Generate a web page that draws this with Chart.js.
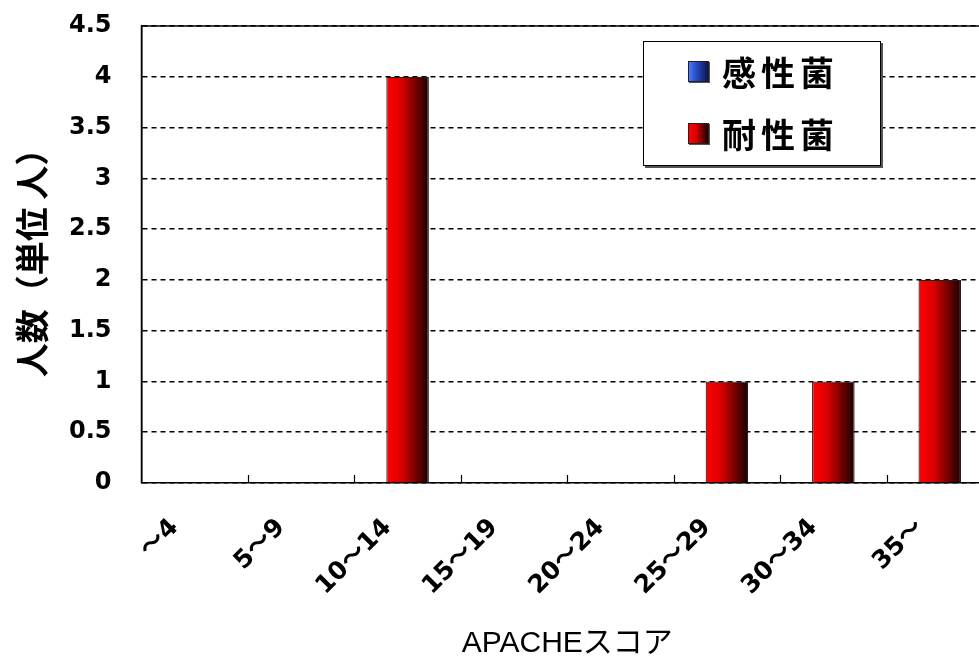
<!DOCTYPE html>
<html>
<head>
<meta charset="utf-8">
<script src="https://cdn.jsdelivr.net/npm/chart.js@4/dist/chart.umd.min.js"></script>
<style>
  html, body { margin: 0; padding: 0; background: #fff; overflow: hidden; width: 979px; height: 665px; }
  #wrap { position: relative; width: 1000px; height: 665px; }
  #legend {
    position: absolute; left: 643px; top: 41px; width: 236px; height: 123px;
    border: 1px solid #000; background: #fff; box-shadow: 2px 2px 0 #555;
    font-family: "Noto Sans CJK JP", sans-serif; font-weight: bold; font-size: 34px; color: #000;
  }
  .item { position: absolute; left: 44px; height: 40px; display: flex; align-items: center; }
  .sw { width: 19px; height: 19px; border: 1px solid #222; box-shadow: 1px 1px 0 #555; margin-right: 13px; flex: none; }
  .lbl { letter-spacing: 5px; white-space: nowrap; }
</style>
</head>
<body>
<div id="wrap">
  <canvas id="c" width="1000" height="665"></canvas>
  <div id="legend"></div>
</div>
<script>
const categories = ["～4", "5～9", "10～14", "15～19", "20～24", "25～29", "30～34", "35～"];
const susceptible = [0, 0, 0, 0, 0, 0, 0, 0];
const resistant = [0, 0, 4, 0, 0, 1, 1, 2];
const seriesNames = ["感性菌", "耐性菌"];
const yTickLabels = ["0", "0.5", "1", "1.5", "2", "2.5", "3", "3.5", "4", "4.5"];
const yTitle = "人数（単位 人）";
const xTitle = "APACHEスコア";

const BAR_PCT = 0.4;
const blueStops = ["#4a7bff", "#2a4fc8", "#0b1550"];
const redStops = ["#ff0000", "#dd0000", "#180000"];
const stopsByDataset = [blueStops, redStops];

function plainFill(stops) {
  // scriptable so every bar keeps its own options object
  return function (ctx) { return stops[0]; };
}

// legend (HTML)
const legend = document.getElementById('legend');
[[seriesNames[0], blueStops, 9], [seriesNames[1], redStops, 71]].forEach(([name, st, top]) => {
  const it = document.createElement('div');
  it.className = 'item';
  it.style.top = top + 'px';
  const sw = document.createElement('div');
  sw.className = 'sw';
  sw.style.background = `linear-gradient(to right, ${st[0]}, ${st[1]} 35%, ${st[2]})`;
  const lb = document.createElement('span');
  lb.className = 'lbl';
  lb.textContent = name;
  it.appendChild(sw); it.appendChild(lb);
  legend.appendChild(it);
});

const gradientPlugin = {
  id: 'barGradient',
  beforeDatasetsDraw(chart) {
    const ctx = chart.ctx;
    chart.data.datasets.forEach((ds, di) => {
      const meta = chart.getDatasetMeta(di);
      const st = stopsByDataset[di];
      meta.data.forEach(el => {
        const half = el.width / 2;
        if (!isFinite(el.x) || !isFinite(half)) return;
        const g = ctx.createLinearGradient(el.x - half, 0, el.x + half, 0);
        g.addColorStop(0, st[0]);
        g.addColorStop(0.35, st[1]);
        g.addColorStop(1, st[2]);
        el.options.backgroundColor = g;
      });
    });
  }
};

const framePlugin = {
  id: 'frame',
  afterDraw(chart) {
    const { ctx, chartArea } = chart;
    const xs = chart.scales.x;
    ctx.save();
    ctx.strokeStyle = '#000';
    ctx.lineWidth = 1.5;
    ctx.beginPath();
    ctx.moveTo(chartArea.left, chartArea.bottom);
    ctx.lineTo(chartArea.left, chartArea.top);
    ctx.lineTo(chartArea.right, chartArea.top);
    ctx.stroke();
    const n = chart.data.labels.length;
    const cw = xs.width / n;
    ctx.lineWidth = 1.2;
    for (let i = 1; i <= n; i++) {
      const x = Math.round(xs.getPixelForValue(i - 1) + cw / 2) + 0.5;
      ctx.beginPath();
      ctx.moveTo(x, chartArea.bottom);
      ctx.lineTo(x, chartArea.bottom - 8);
      ctx.stroke();
    }
    ctx.restore();
  }
};

new Chart(document.getElementById('c'), {
  type: 'bar',
  data: {
    labels: categories,
    datasets: [
      { label: seriesNames[0], data: susceptible, backgroundColor: plainFill(blueStops),
        borderColor: '#222', borderWidth: 0, borderSkipped: 'start', grouped: false,
        barPercentage: BAR_PCT, categoryPercentage: 1 },
      { label: seriesNames[1], data: resistant, backgroundColor: plainFill(redStops),
        borderColor: '#222', borderWidth: 1.2, borderSkipped: 'start', grouped: false,
        barPercentage: BAR_PCT, categoryPercentage: 1 }
    ]
  },
  options: {
    responsive: false,
    devicePixelRatio: 1,
    animation: false,
    layout: { padding: { left: 0, right: 7, top: 26, bottom: 0 } },
    plugins: { legend: { display: false }, tooltip: { enabled: false } },
    scales: {
      x: {
        offset: true,
        grid: { display: false },
        border: { display: true, color: '#000', width: 1.5 },
        ticks: {
          minRotation: 45, maxRotation: 45, autoSkip: false,
          padding: 22, labelOffset: -20,
          color: '#000',
          font: { family: 'DejaVu Sans, "Noto Sans CJK JP"', weight: 'bold', size: 25 }
        },
        title: {
          display: true, text: xTitle, color: '#000',
          font: { family: 'Liberation Sans, "Noto Sans CJK JP", sans-serif', size: 30, weight: 'normal', lineHeight: 1.2 },
          padding: { top: 0, bottom: 3 }
        },
        afterFit(scale) { scale.height = 182; }
      },
      y: {
        min: 0, max: 4.5,
        grid: { color: '#000', lineWidth: 1.6, drawTicks: true, tickLength: 30, tickColor: 'rgba(0,0,0,0)' },
        border: { display: true, color: '#000', width: 1.5, dash: [5, 4] },
        ticks: {
          stepSize: 0.5, padding: 0, color: '#000',
          font: { family: 'DejaVu Sans', weight: 'bold', size: 24 },
          callback: (v, i) => yTickLabels[i]
        },
        title: {
          display: true, text: yTitle, color: '#000',
          font: { family: '"Noto Sans CJK JP", sans-serif', size: 34, weight: 'bold', lineHeight: 1.2 },
          padding: { top: 12, bottom: 0 }
        },
        afterFit(scale) { scale.width = 141.5; }
      }
    }
  },
  plugins: [gradientPlugin, framePlugin]
});
</script>
</body>
</html>
